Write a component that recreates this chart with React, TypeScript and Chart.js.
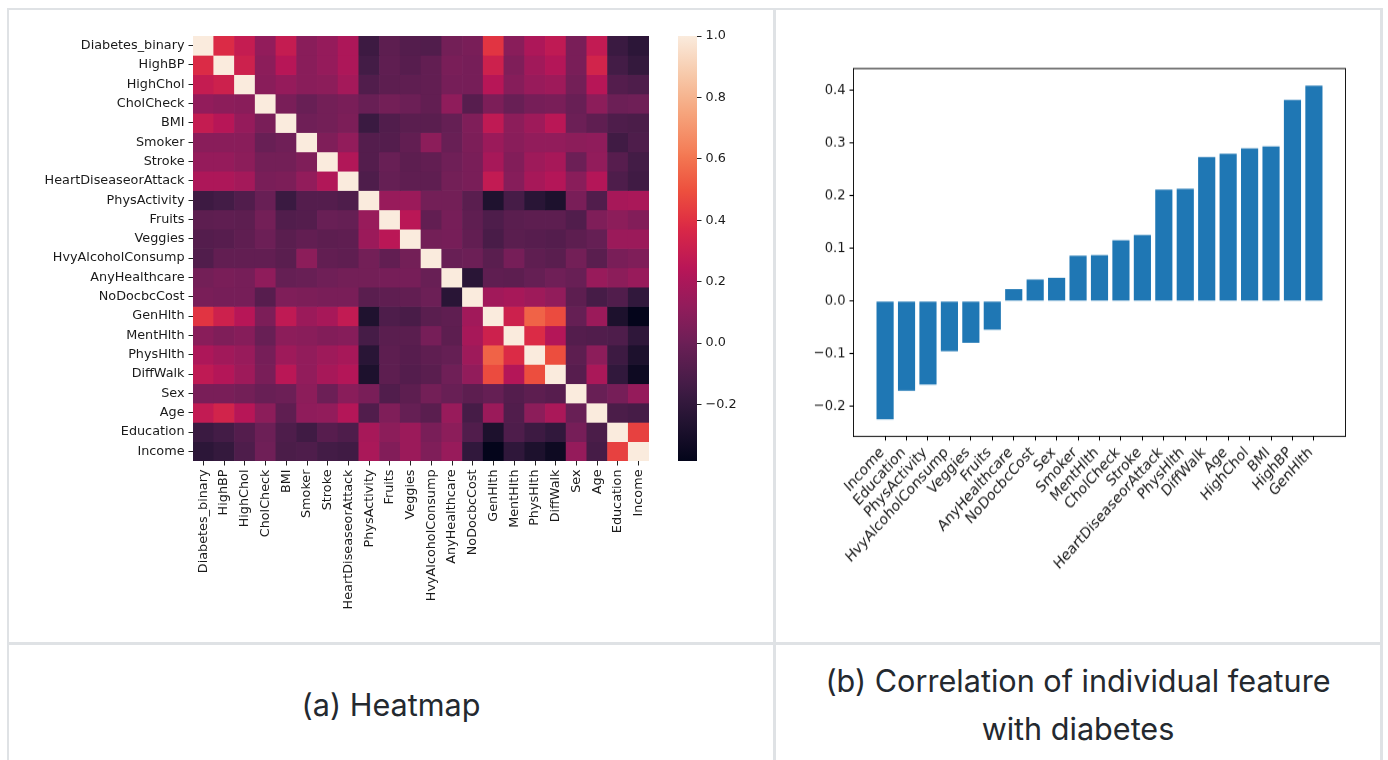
import React, { useEffect, useRef } from 'react';
import { Chart, registerables } from 'chart.js';
Chart.register(...registerables);

// ---------- Data ----------
const heatLabels = [
  'Diabetes_binary', 'HighBP', 'HighChol', 'CholCheck', 'BMI', 'Smoker', 'Stroke',
  'HeartDiseaseorAttack', 'PhysActivity', 'Fruits', 'Veggies', 'HvyAlcoholConsump',
  'AnyHealthcare', 'NoDocbcCost', 'GenHlth', 'MentHlth', 'PhysHlth', 'DiffWalk',
  'Sex', 'Age', 'Education', 'Income',
];

// lower triangle of the correlation matrix (row i holds columns 0..i-1)
const corrLower: number[][] = [
  [],
  [0.38],
  [0.29, 0.32],
  [0.12, 0.10, 0.09],
  [0.29, 0.24, 0.13, 0.04],
  [0.09, 0.09, 0.09, -0.01, 0.01],
  [0.13, 0.13, 0.10, 0.02, 0.02, 0.06],
  [0.21, 0.21, 0.18, 0.04, 0.05, 0.12, 0.22],
  [-0.16, -0.14, -0.09, -0.01, -0.17, -0.08, -0.08, -0.10],
  [-0.05, -0.04, -0.05, 0.02, -0.09, -0.08, -0.01, -0.02, 0.14],
  [-0.08, -0.07, -0.04, 0.00, -0.06, -0.03, -0.05, -0.04, 0.15, 0.25],
  [-0.09, -0.03, -0.03, -0.03, -0.06, 0.10, -0.03, -0.04, 0.02, -0.03, 0.02],
  [0.02, 0.04, 0.03, 0.11, -0.02, -0.01, 0.01, 0.02, 0.02, 0.03, 0.03, -0.01],
  [0.04, 0.03, 0.03, -0.07, 0.06, 0.05, 0.04, 0.04, -0.06, -0.04, -0.03, 0.00, -0.23],
  [0.41, 0.32, 0.24, 0.05, 0.27, 0.15, 0.19, 0.28, -0.27, -0.10, -0.12, -0.06, -0.04, 0.17],
  [0.09, 0.06, 0.08, -0.01, 0.10, 0.09, 0.07, 0.08, -0.13, -0.06, -0.06, 0.03, -0.05, 0.19, 0.32],
  [0.21, 0.17, 0.14, 0.03, 0.16, 0.12, 0.16, 0.19, -0.23, -0.05, -0.07, -0.04, -0.02, 0.16, 0.55, 0.38],
  [0.27, 0.23, 0.16, 0.04, 0.25, 0.12, 0.19, 0.23, -0.28, -0.05, -0.08, -0.06, 0.01, 0.12, 0.48, 0.23, 0.49],
  [0.04, 0.04, 0.02, -0.01, 0.00, 0.10, 0.00, 0.09, 0.04, -0.09, -0.05, 0.02, -0.01, -0.05, -0.02, -0.08, -0.05, -0.07],
  [0.28, 0.34, 0.24, 0.10, -0.04, 0.11, 0.12, 0.23, -0.09, 0.06, -0.02, -0.06, 0.14, -0.13, 0.15, -0.09, 0.10, 0.20, -0.01],
  [-0.17, -0.14, -0.08, 0.00, -0.10, -0.15, -0.07, -0.10, 0.19, 0.10, 0.15, 0.04, 0.10, -0.09, -0.28, -0.10, -0.16, -0.20, 0.03, -0.11],
  [-0.22, -0.19, -0.10, 0.01, -0.11, -0.10, -0.14, -0.15, 0.20, 0.07, 0.15, 0.06, 0.14, -0.20, -0.38, -0.21, -0.28, -0.34, 0.13, -0.13, 0.45],
];

const colorMin = -0.384;
const colorMax = 1.0;
const colorbarTicks = [-0.2, 0.0, 0.2, 0.4, 0.6, 0.8, 1.0];

const barLabels = [
  'Income', 'Education', 'PhysActivity', 'HvyAlcoholConsump', 'Veggies', 'Fruits',
  'AnyHealthcare', 'NoDocbcCost', 'Sex', 'Smoker', 'MentHlth', 'CholCheck', 'Stroke',
  'HeartDiseaseorAttack', 'PhysHlth', 'DiffWalk', 'Age', 'HighChol', 'BMI', 'HighBP', 'GenHlth',
];
const barValues = [
  -0.224, -0.170, -0.158, -0.095, -0.079, -0.054, 0.023, 0.041, 0.044, 0.086, 0.087,
  0.115, 0.125, 0.211, 0.213, 0.273, 0.279, 0.289, 0.293, 0.381, 0.408,
];
const barYTicks = [-0.2, -0.1, 0.0, 0.1, 0.2, 0.3, 0.4];
const barYMin = -0.2556;
const barYMax = 0.4396;
const barXMin = -1.45;
const barXMax = 21.45;

// rocket colormap stops
const rocketStops: [number, string][] = [
  [0.0, '#03051a'], [0.0909, '#221331'], [0.1429, '#35193e'], [0.1818, '#451c47'],
  [0.2727, '#691f55'], [0.2857, '#701f57'], [0.3636, '#921c5b'], [0.4286, '#ad1759'],
  [0.4545, '#b91657'], [0.5454, '#d92847'], [0.5714, '#e13342'], [0.6364, '#ed503e'],
  [0.7143, '#f37651'], [0.7273, '#f47d57'], [0.8182, '#f6a47c'], [0.8571, '#f6b48f'],
  [0.9091, '#f7c9aa'], [1.0, '#faebdd'],
];

function hexToRgb(h: string) {
  return [parseInt(h.slice(1, 3), 16), parseInt(h.slice(3, 5), 16), parseInt(h.slice(5, 7), 16)];
}
function rocket(t: number) {
  const x = Math.max(0, Math.min(1, t));
  for (let i = 1; i < rocketStops.length; i++) {
    const [p1, c1] = rocketStops[i];
    const [p0, c0] = rocketStops[i - 1];
    if (x <= p1) {
      const f = (x - p0) / (p1 - p0);
      const a = hexToRgb(c0), b = hexToRgb(c1);
      const r = a.map((v, k) => Math.round(v + (b[k] - v) * f));
      return `rgb(${r[0]},${r[1]},${r[2]})`;
    }
  }
  return rocketStops[rocketStops.length - 1][1];
}

const fmt = (v: number) => (v < -1e-9 ? '\u2212' : '') + Math.abs(v).toFixed(1);

Chart.defaults.font.family = "'DejaVu Sans', sans-serif";
Chart.defaults.font.size = 12.8;
Chart.defaults.color = '#1a1a1a';

const tickGrid = { drawOnChartArea: false, drawTicks: true, tickLength: 4.5, color: '#222', lineWidth: 1 };

function HeatmapChart() {
  const ref = useRef<HTMLCanvasElement>(null);
  useEffect(() => {
    const n = heatLabels.length;
    const matrix = heatLabels.map((_, i) =>
      heatLabels.map((_, j) => (i === j ? 1 : i > j ? corrLower[i][j] : corrLower[j][i]))
    );
    const chart = new Chart(ref.current!, {
      type: 'bar',
      data: {
        labels: heatLabels,
        datasets: matrix.map((row, r) => ({
          data: row.map(() => [r, r + 1]),
          backgroundColor: row.map((v) => rocket((v - colorMin) / (colorMax - colorMin))),
          borderWidth: 0,
          barPercentage: 1,
          categoryPercentage: 1,
          grouped: false,
        })) as any,
      },
      options: {
        responsive: false,
        animation: false,
        events: [],
        layout: { padding: { left: 0, top: 26, right: 124, bottom: 0 } },
        plugins: { legend: { display: false }, tooltip: { enabled: false } },
        scales: {
          x: {
            type: 'category',
            offset: true,
            grid: { ...tickGrid, offset: false },
            border: { display: false },
            ticks: { autoSkip: false, minRotation: 90, maxRotation: 90, padding: 4 },
            afterFit: (s: any) => { s.height = 181; s.paddingLeft = 0; s.paddingRight = 0; },
          },
          y: {
            type: 'linear',
            reverse: true,
            min: 0,
            max: n,
            offset: false,
            grid: tickGrid,
            border: { display: false },
            afterBuildTicks: (s: any) => { s.ticks = heatLabels.map((_, i) => ({ value: i + 0.5 })); },
            ticks: { autoSkip: false, padding: 4, callback: (v: any) => heatLabels[Math.floor(v)] },
            afterFit: (s: any) => { s.width = 184; s.paddingTop = 0; s.paddingBottom = 0; },
          },
        },
      } as any,
    });
    return () => chart.destroy();
  }, []);
  return (
    <canvas ref={ref} width={764} height={632}
      style={{ position: 'absolute', left: 9, top: 10, width: 764, height: 632 }} />
  );
}

function ColorbarChart() {
  const ref = useRef<HTMLCanvasElement>(null);
  useEffect(() => {
    const chart = new Chart(ref.current!, {
      type: 'bar',
      data: {
        labels: [''],
        datasets: [{
          data: [[colorMin, colorMax]] as any,
          backgroundColor: (c: any) => {
            const ch = c.chart;
            const area = ch.chartArea;
            if (!area) return rocket(0.5);
            const g = ch.ctx.createLinearGradient(0, area.bottom, 0, area.top);
            rocketStops.forEach(([p, col]) => g.addColorStop(p, col));
            return g;
          },
          borderWidth: 0,
          barPercentage: 1,
          categoryPercentage: 1,
        }],
      },
      options: {
        responsive: false,
        animation: false,
        events: [],
        layout: { padding: { left: 18, top: 26, right: 0, bottom: 49 } },
        plugins: { legend: { display: false }, tooltip: { enabled: false } },
        scales: {
          x: { display: false },
          y: {
            type: 'linear',
            position: 'right',
            min: colorMin,
            max: colorMax,
            offset: false,
            grid: tickGrid,
            border: { display: false },
            afterBuildTicks: (s: any) => { s.ticks = colorbarTicks.map((v) => ({ value: v })); },
            ticks: { padding: 4, callback: (v: any) => fmt(v) },
            afterFit: (s: any) => { s.width = 73; },
          },
        },
      } as any,
    });
    return () => chart.destroy();
  }, []);
  return (
    <canvas ref={ref} width={110} height={500}
      style={{ position: 'absolute', left: 660, top: 10, width: 110, height: 500 }} />
  );
}

const framePlugin = {
  id: 'frame',
  afterDraw(chart: any) {
    const { ctx, chartArea: a } = chart;
    ctx.save();
    ctx.strokeStyle = '#000';
    ctx.lineWidth = 0.9;
    ctx.strokeRect(a.left - 0.5, a.top - 0.45, a.right - a.left + 1, a.bottom - a.top + 0.9);
    ctx.restore();
  },
};

// the right panel is drawn at a slightly compressed height and shown stretched (as in the source figure)
const BAR_STRETCH = 1.12;
const BAR_W = 604;
const BAR_H_SHOWN = 632;
const BAR_H = Math.round(BAR_H_SHOWN / BAR_STRETCH);

function BarChart() {
  const ref = useRef<HTMLCanvasElement>(null);
  useEffect(() => {
    const k = BAR_H_SHOWN / BAR_H;
    const chart = new Chart(ref.current!, {
      type: 'bar',
      data: {
        datasets: [{
          data: barValues.map((v, i) => ({ x: i, y: v })),
          backgroundColor: '#1f77b4',
          borderWidth: 0,
          barPercentage: 0.8,
          categoryPercentage: 1,
        }],
      },
      options: {
        responsive: false,
        animation: false,
        events: [],
        layout: { padding: { left: 0, top: 59 / k, right: 35, bottom: 0 } },
        plugins: { legend: { display: false }, tooltip: { enabled: false } },
        scales: {
          x: {
            type: 'linear',
            min: barXMin,
            max: barXMax,
            offset: false,
            bounds: 'data',
            grid: { ...tickGrid, color: '#000', offset: false, tickLength: 4 },
            border: { display: false },
            afterBuildTicks: (s: any) => { s.ticks = barLabels.map((_, i) => ({ value: i })); },
            ticks: {
              autoSkip: false, minRotation: 45, maxRotation: 45, padding: 3, labelOffset: -3,
              font: { size: 13.5 },
              callback: (v: any) => barLabels[Math.round(v)],
            },
            afterFit: (s: any) => { s.height = (BAR_H_SHOWN - 426) / k; s.paddingLeft = 0; s.paddingRight = 0; },
          },
          y: {
            type: 'linear',
            min: barYMin,
            max: barYMax,
            offset: false,
            grid: { ...tickGrid, color: '#000' },
            border: { display: false },
            afterBuildTicks: (s: any) => { s.ticks = barYTicks.map((v) => ({ value: v })); },
            ticks: { padding: 4, font: { size: 13.1 }, callback: (v: any) => fmt(v) },
            afterFit: (s: any) => { s.width = 78; s.paddingTop = 0; s.paddingBottom = 0; },
          },
        },
      } as any,
      plugins: [framePlugin],
    });
    return () => chart.destroy();
  }, []);
  return (
    <canvas ref={ref} width={BAR_W} height={BAR_H}
      style={{ position: 'absolute', left: 776, top: 10, width: BAR_W, height: BAR_H_SHOWN }} />
  );
}

const lineColor = '#dfe2e5';
const captionStyle: React.CSSProperties = {
  position: 'absolute',
  textAlign: 'center',
  fontFamily: "Inter, 'Open Sans', sans-serif",
  fontSize: 30.6,
  lineHeight: '48px',
  color: '#24292f',
};

export default function App() {
  return (
    <div style={{ position: 'fixed', left: 0, top: 0, width: 1388, height: 760, overflow: 'hidden', background: '#fff' }}>
      <div style={{ position: 'absolute', left: 7, top: 8, width: 1376, height: 2, background: lineColor }} />
      <div style={{ position: 'absolute', left: 7, top: 8, width: 2, height: 752, background: lineColor }} />
      <div style={{ position: 'absolute', left: 1380, top: 8, width: 3, height: 752, background: lineColor }} />
      <div style={{ position: 'absolute', left: 773, top: 8, width: 3, height: 752, background: lineColor }} />
      <div style={{ position: 'absolute', left: 7, top: 642, width: 1376, height: 3, background: lineColor }} />
      <HeatmapChart />
      <ColorbarChart />
      <BarChart />
      <div style={{ ...captionStyle, left: 9, width: 764, top: 681 }}>(a) Heatmap</div>
      <div style={{ ...captionStyle, left: 776, width: 604, top: 657 }}>
        (b) Correlation of individual feature<br />with diabetes
      </div>
    </div>
  );
}
